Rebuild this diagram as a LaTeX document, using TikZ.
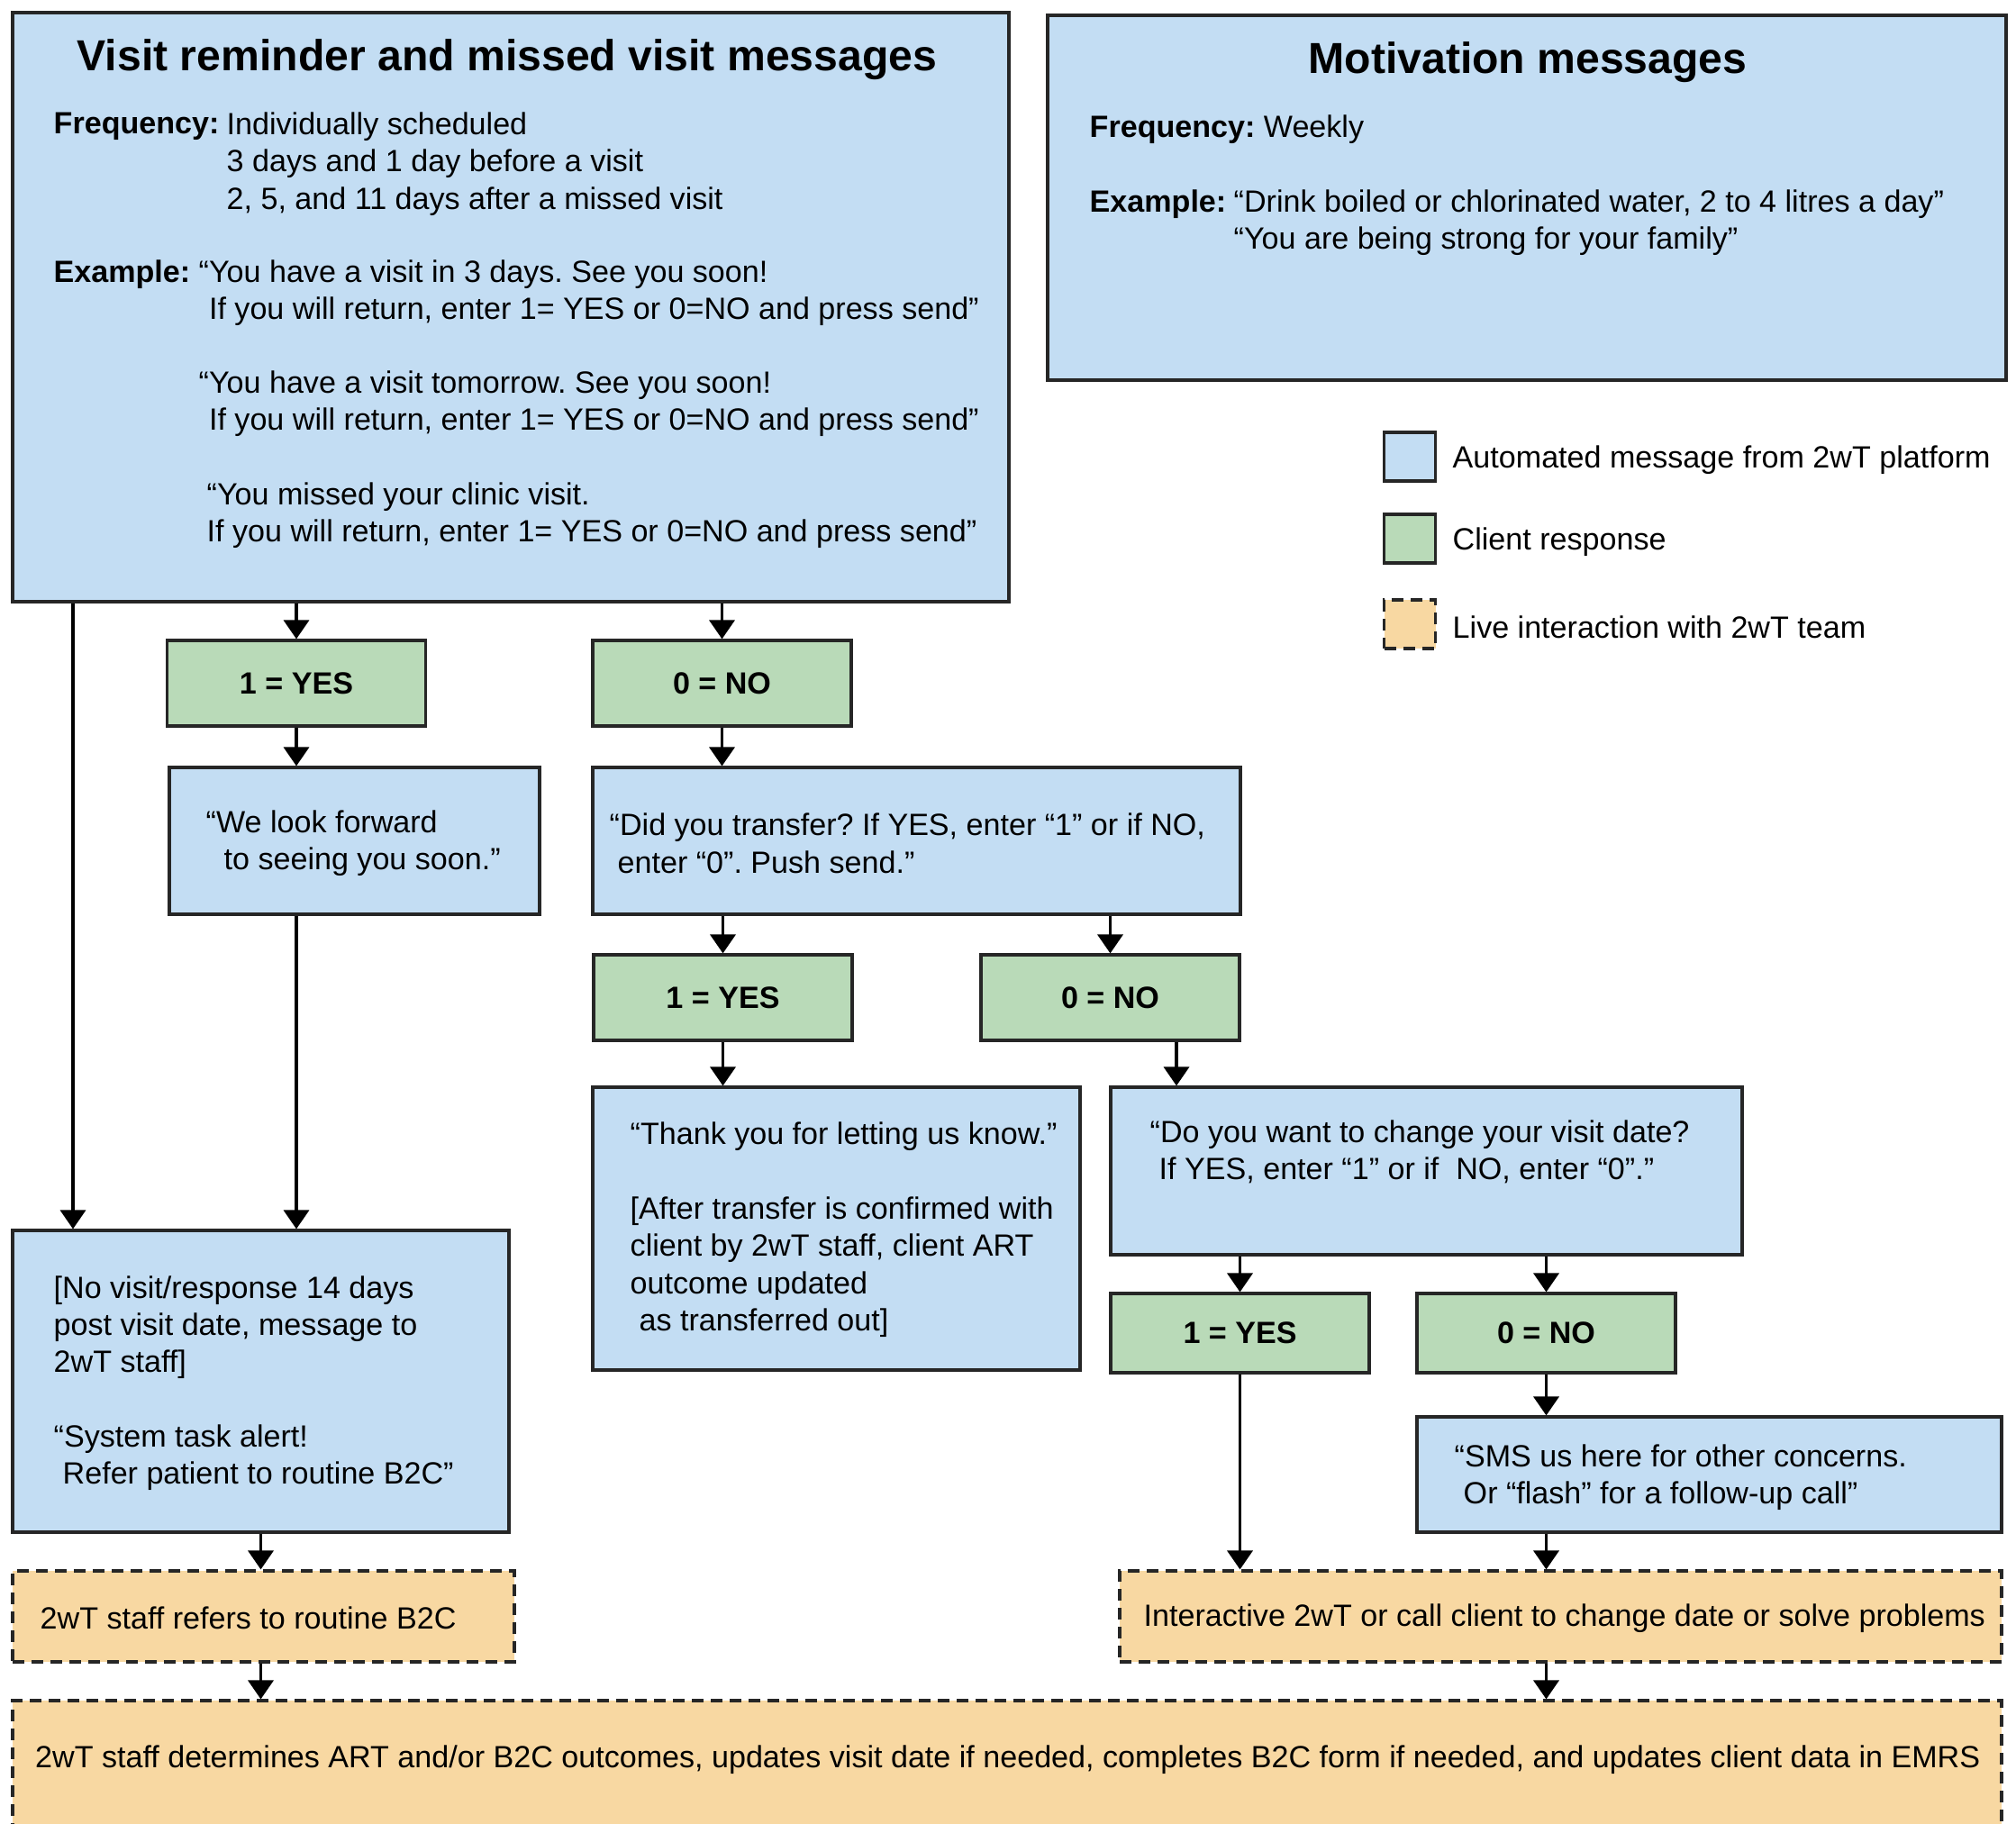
\documentclass[tikz,border=0pt]{standalone}
\usepackage{fontspec}
\setmainfont{Liberation Sans}
\usetikzlibrary{arrows.meta}
\definecolor{msgblue}{HTML}{C3DDF3}
\definecolor{respgreen}{HTML}{B9DAB8}
\definecolor{liveorange}{HTML}{F8D8A2}
\definecolor{edge}{HTML}{262626}
\frenchspacing
\begin{document}
\begin{tikzpicture}[>={Triangle[length=2.1mm,width=2.8mm]},
  font=\fontsize{9.7}{11.77}\selectfont,
  box/.style={draw=edge,line width=0.9pt,inner sep=0pt},
  msg/.style={box,fill=msgblue},
  resp/.style={box,fill=respgreen,font=\fontsize{9.7}{11.77}\selectfont\bfseries,minimum width=2.87cm},
  live/.style={box,fill=liveorange,dash pattern=on 1.3mm off 0.8mm},
  txt/.style={anchor=west,align=left,inner sep=0pt,yshift=-0.035cm},
  bold/.style={font=\fontsize{9.7}{11.77}\selectfont\bfseries},
  ttl/.style={font=\fontsize{13.7}{16}\selectfont\bfseries,inner sep=0pt,yshift=-0.045cm},
  arr/.style={->,line width=1pt,draw=black}]
\useasboundingbox (0,0) rectangle (22.38,-20.24);
% message boxes at the top
\node[msg,minimum width=11.06cm,minimum height=6.54cm] (visit) at (5.67,-3.41) {};
\node[ttl] (visittitle) at (5.63,-0.614) {Visit reminder and missed visit messages};
\node[txt,bold] (freqlbl) at (0.59,-1.37) {Frequency:};
\node[txt] (freq) at (2.51,-1.784) {Individually scheduled\\3 days and 1 day before a visit\\2, 5, and 11 days after a missed visit};
\node[txt,bold] (exlbl) at (0.59,-3.012) {Example:};
\node[txt] (exA) at (2.20,-3.219) {“You have a visit in 3 days. See you soon!\\\phantom{“}If you will return, enter 1= YES or 0=NO and press send”};
\node[txt] (exB) at (2.20,-4.446) {“You have a visit tomorrow. See you soon!\\\phantom{“}If you will return, enter 1= YES or 0=NO and press send”};
\node[txt] (exC) at (2.29,-5.688) {“You missed your clinic visit.\\If you will return, enter 1= YES or 0=NO and press send”};

\node[msg,minimum width=10.64cm,minimum height=4.05cm] (motiv) at (16.95,-2.195) {};
\node[ttl] (motivtitle) at (16.96,-0.642) {Motivation messages};
\node[txt] (weekly) at (12.09,-1.399) {\textbf{Frequency:} Weekly};
\node[txt,bold] (mexlbl) at (12.09,-2.227) {Example:};
\node[txt] (mex) at (13.69,-2.434) {“Drink boiled or chlorinated water, 2 to 4 litres a day”\\“You are being strong for your family”};

% legend
\node[msg,minimum width=0.57cm,minimum height=0.54cm] (keymsg) at (15.65,-5.07) {};
\node[resp,minimum width=0.57cm,minimum height=0.54cm] (keyresp) at (15.65,-5.98) {};
\node[live,minimum width=0.57cm,minimum height=0.54cm] (keylive) at (15.65,-6.93) {};
\node[txt] (keymsgtxt) at (16.12,-5.07) {Automated message from 2wT platform};
\node[txt] (keyresptxt) at (16.12,-5.98) {Client response};
\node[txt] (keylivetxt) at (16.12,-6.93) {Live interaction with 2wT team};

% flow
\node[resp,minimum height=0.95cm] (yesA) at (3.29,-7.585) {1 = YES};
\node[resp,minimum height=0.95cm] (noA) at (8.015,-7.585) {0 = NO};
\node[msg,minimum width=4.11cm,minimum height=1.63cm] (soon) at (3.935,-9.335) {};
\node[txt] (soontxt) at (2.28,-9.327) {“We look forward\\\hspace*{0.2cm}to seeing you soon.”};
\node[msg,minimum width=7.19cm,minimum height=1.63cm] (transfer) at (10.175,-9.335) {};
\node[txt] (transfertxt) at (6.76,-9.327) {“Did you transfer? If YES, enter “1” or if NO,\\\hspace*{0.09cm}enter “0”. Push send.”};
\node[resp,minimum height=0.95cm] (yesB) at (8.025,-11.075) {1 = YES};
\node[resp,minimum height=0.95cm] (noB) at (12.325,-11.075) {0 = NO};
\node[msg,minimum width=5.41cm,minimum height=3.14cm] (thanks) at (9.285,-13.64) {};
\node[txt] (thankstxt) at (6.99,-13.617) {“Thank you for letting us know.”\\ \\ {}[After transfer is confirmed with\\client by 2wT staff, client ART\\outcome updated\\\hspace*{0.1cm}as transferred out]};
\node[msg,minimum width=7.01cm,minimum height=1.86cm] (change) at (15.835,-13.0) {};
\node[txt] (changetxt) at (12.76,-12.753) {“Do you want to change your visit date?\\\hspace*{0.1cm}If YES, enter “1” or if\ \ NO, enter “0”.”};
\node[resp,minimum height=0.88cm] (yesC) at (13.765,-14.80) {1 = YES};
\node[resp,minimum height=0.88cm] (noC) at (17.165,-14.80) {0 = NO};
\node[msg,minimum width=6.49cm,minimum height=1.28cm] (sms) at (18.975,-16.37) {};
\node[txt] (smstxt) at (16.14,-16.364) {“SMS us here for other concerns.\\\hspace*{0.1cm}Or “flash” for a follow-up call”};
\node[msg,minimum width=5.51cm,minimum height=3.35cm] (novisit) at (2.895,-15.335) {};
\node[txt] (novisittxt) at (0.59,-15.322) {{}[No visit/response 14 days\\post visit date, message to\\2wT staff]\\ \\“System task alert!\\\hspace*{0.1cm}Refer patient to routine B2C”};

% live interaction
\node[live,minimum width=5.57cm,minimum height=1.01cm] (refer) at (2.925,-17.945) {};
\node[txt] (refertxt) at (0.44,-17.93) {2wT staff refers to routine B2C};
\node[live,minimum width=9.79cm,minimum height=1.01cm] (interact) at (17.325,-17.945) {};
\node[txt] (interacttxt) at (12.69,-17.93) {Interactive 2wT or call client to change date or solve problems};
\node[live,minimum width=22.08cm,minimum height=1.52cm] (outcome) at (11.18,-19.64) {};
\node[txt] (outcometxt) at (0.385,-19.50) {2wT staff determines ART and/or B2C outcomes, updates visit date if needed, completes B2C form if needed, and updates client data in EMRS};

% connectors
\coordinate (lane) at (0.81,0);
\coordinate (lanechange) at (13.06,0);
\draw[arr] (visit.south -| lane) -- (novisit.north -| lane);
\draw[arr] (visit.south -| yesA) -- (yesA.north);
\draw[arr] (visit.south -| noA) -- (noA.north);
\draw[arr] (yesA.south) -- (soon.north -| yesA);
\draw[arr] (soon.south -| yesA) -- (novisit.north -| yesA);
\draw[arr] (noA.south) -- (transfer.north -| noA);
\draw[arr] (transfer.south -| yesB) -- (yesB.north);
\draw[arr] (transfer.south -| noB) -- (noB.north);
\draw[arr] (yesB.south) -- (thanks.north -| yesB);
\draw[arr] (noB.south -| lanechange) -- (change.north -| lanechange);
\draw[arr] (change.south -| yesC) -- (yesC.north);
\draw[arr] (change.south -| noC) -- (noC.north);
\draw[arr] (yesC.south) -- (interact.north -| yesC);
\draw[arr] (noC.south) -- (sms.north -| noC);
\draw[arr] (sms.south -| noC) -- (interact.north -| noC);
\draw[arr] (interact.south -| noC) -- (outcome.north -| noC);
\draw[arr] (novisit.south) -- (refer.north -| novisit);
\draw[arr] (refer.south -| novisit) -- (outcome.north -| novisit);
\end{tikzpicture}
\end{document}
